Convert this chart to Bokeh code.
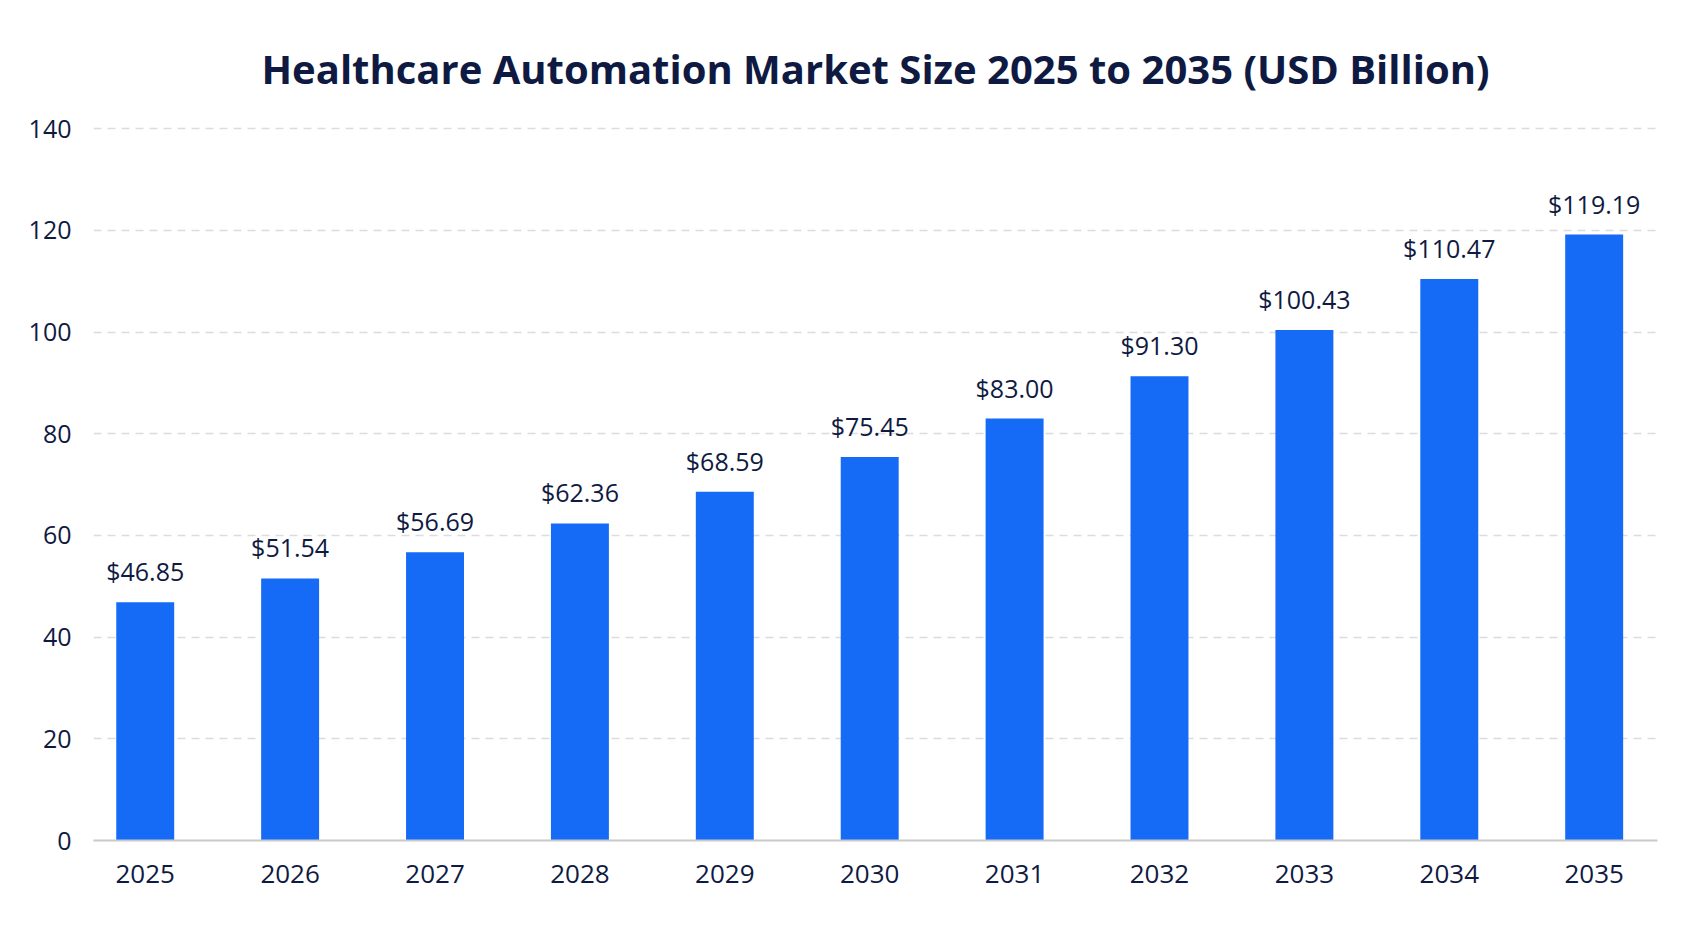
from bokeh.plotting import figure
from bokeh.models import ColumnDataSource, FixedTicker, Range1d
from bokeh.core.properties import value
from bokeh.embed import file_html
from bokeh.resources import INLINE

years = ["2025", "2026", "2027", "2028", "2029", "2030", "2031", "2032", "2033", "2034", "2035"]
market_size = [46.85, 51.54, 56.69, 62.36, 68.59, 75.45, 83.00, 91.30, 100.43, 110.47, 119.19]
y_ticks = [0, 20, 40, 60, 80, 100, 120, 140]

TEXT = "#0f1a42"
BAR = "#156bf6"
FONT = "Open Sans"

xs = list(range(len(years)))
labels = ["$%.2f" % v for v in market_size]
src = ColumnDataSource(dict(x=xs, top=market_size, label=labels))

p = figure(width=1686, height=921, output_backend="svg", toolbar_location=None,
           x_range=Range1d(-0.357, 10.437), y_range=Range1d(0, 143.6),
           min_border_left=93, min_border_right=29, min_border_top=110, min_border_bottom=81)

p.title.text = "Healthcare Automation Market Size 2025 to 2035 (USD Billion)"
p.title.align = "center"
p.title.text_font = FONT
p.title.text_font_size = "40px"
p.title.text_font_style = "bold"
p.title.text_color = TEXT
p.title.standoff = 29

p.vbar(x="x", top="top", width=0.40, source=src, color=BAR, line_color=None)
p.text(x="x", y="top", text="label", source=src, text_align="center", text_baseline="bottom",
       y_offset=-14, text_font=value(FONT), text_font_size="25px", text_color=TEXT)

p.outline_line_color = None
p.background_fill_color = "white"
p.border_fill_color = "white"

p.xgrid.grid_line_color = None
p.ygrid.grid_line_color = "#dcdcdc"
p.ygrid.grid_line_dash = "8 6"
p.ygrid.grid_line_width = 1.5
p.ygrid.ticker = FixedTicker(ticks=y_ticks)

p.yaxis.ticker = FixedTicker(ticks=y_ticks)
p.yaxis.axis_line_color = None
p.yaxis.major_tick_line_color = None
p.yaxis.minor_tick_line_color = None
p.yaxis.major_label_standoff = 16
p.yaxis.major_label_text_font = FONT
p.yaxis.major_label_text_font_size = "25px"
p.yaxis.major_label_text_color = TEXT

p.xaxis.ticker = FixedTicker(ticks=xs)
p.xaxis.major_label_overrides = {i: y for i, y in zip(xs, years)}
p.xaxis.axis_line_color = "#c8c8c8"
p.xaxis.axis_line_width = 2
p.xaxis.major_tick_line_color = None
p.xaxis.minor_tick_line_color = None
p.xaxis.major_label_standoff = 18
p.xaxis.major_label_text_font = FONT
p.xaxis.major_label_text_font_size = "26px"
p.xaxis.major_label_text_color = TEXT

open("out.html", "w").write(file_html(p, INLINE))
